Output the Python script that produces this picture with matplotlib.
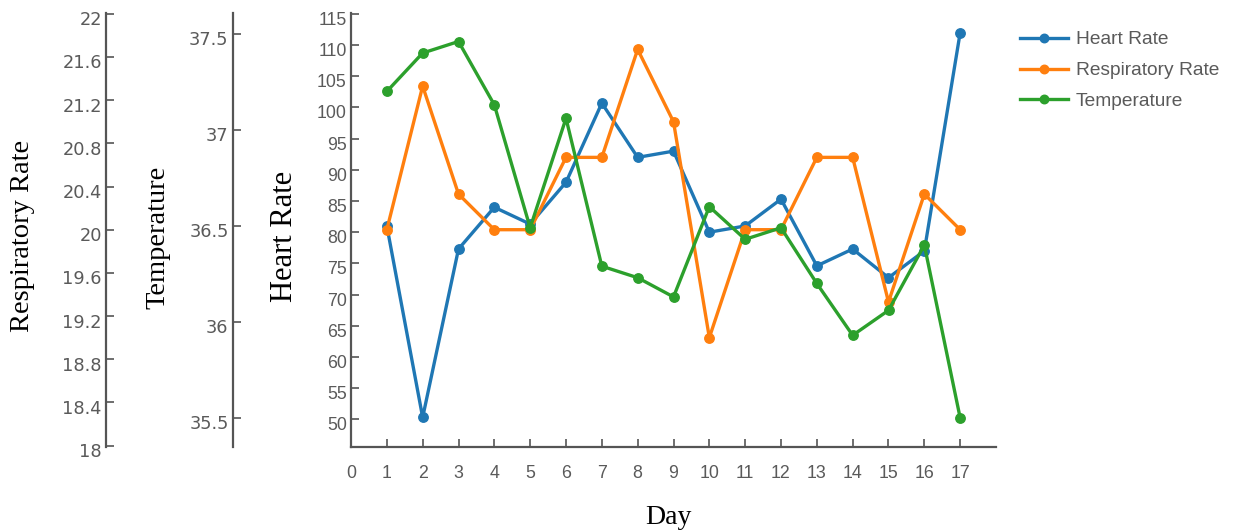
import matplotlib
matplotlib.use("Agg")
import matplotlib.pyplot as plt
import matplotlib.transforms as mtransforms

days = list(range(1, 18))
heart_rate = [81.0, 50.3, 77.3, 84.0, 81.3, 88.0, 100.7, 92.0, 93.0, 80.0,
              81.0, 85.3, 74.6, 77.3, 72.7, 77.0, 112.0]
resp_rate = [20.0, 21.33, 20.33, 20.0, 20.0, 20.67, 20.67, 21.67, 21.0, 19.0,
             20.0, 20.0, 20.67, 20.67, 19.33, 20.33, 20.0]
temperature = [37.2, 37.4, 37.46, 37.13, 36.49, 37.06, 36.29, 36.23, 36.13, 36.6,
               36.43, 36.49, 36.2, 35.93, 36.06, 36.4, 35.5]

x_ticks = list(range(0, 18))
hr_ticks = list(range(50, 116, 5))
rr_ticks = [18, 18.4, 18.8, 19.2, 19.6, 20, 20.4, 20.8, 21.2, 21.6, 22]
rr_labels = ["18", "18.4", "18.8", "19.2", "19.6", "20", "20.4", "20.8", "21.2", "21.6", "22"]
t_ticks = [35.5, 36, 36.5, 37, 37.5]
t_labels = ["35.5", "36", "36.5", "37", "37.5"]

c_blue, c_orange, c_green = "#1f77b4", "#ff7f0e", "#2ca02c"
spine_c = "#555555"
tick_c = "#5a5a5a"
sans = ["Liberation Sans", "DejaVu Sans"]
serif = ["Liberation Serif", "DejaVu Serif"]

W, H = 1258, 531
fig = plt.figure(figsize=(W / 100, H / 100), dpi=100)
L, R, T, B = 351, 996, 12.7, 446.7
ax = fig.add_axes([L / W, 1 - B / H, (R - L) / W, (B - T) / H])
ax_r = ax.twinx()
ax_t = ax.twinx()

lw = 2.4
ms = 6.8
l1, = ax.plot(days, heart_rate, color=c_blue, lw=lw, marker="o", ms=ms, label="Heart Rate", zorder=3)
l2, = ax_r.plot(days, resp_rate, color=c_orange, lw=lw, marker="o", ms=ms, label="Respiratory Rate", zorder=3)
l3, = ax_t.plot(days, temperature, color=c_green, lw=lw, marker="o", ms=ms, label="Temperature", zorder=3)

ax.set_xlim(0, 18)
ax.set_ylim(45.6, 115.2)
ax_r.set_ylim(17.99, 22.01)
ax_t.set_ylim(35.35, 37.61)

ax.set_xticks(x_ticks)
ax.set_xticklabels([str(v) for v in x_ticks])
ax.set_yticks(hr_ticks)
ax.set_yticklabels([str(v) for v in hr_ticks])
ax_r.set_yticks(rr_ticks)
ax_r.set_yticklabels(rr_labels)
ax_t.set_yticks(t_ticks)
ax_t.set_yticklabels(t_labels)

for a in (ax, ax_r, ax_t):
    a.patch.set_visible(False)
    for s in a.spines.values():
        s.set_visible(False)
    a.spines["left"].set_visible(True)
    a.spines["left"].set_color(spine_c)
    a.spines["left"].set_linewidth(1.6)
    a.yaxis.set_ticks_position("left")
    a.yaxis.set_label_position("left")
    a.tick_params(axis="y", direction="in", length=6, width=1.2, color=spine_c,
                  labelsize=12.8, labelcolor=tick_c, pad=3)
    for lab in a.get_yticklabels():
        lab.set_fontfamily(sans)

ax.spines["bottom"].set_visible(True)
ax.spines["bottom"].set_color(spine_c)
ax.spines["bottom"].set_linewidth(1.6)
ax.tick_params(axis="x", direction="in", length=6, width=1.2, color=spine_c,
               labelsize=12.8, labelcolor=tick_c, pad=13.5)
for lab in ax.get_xticklabels():
    lab.set_fontfamily(sans)

ax_r.spines["left"].set_position(("axes", (106 - L) / (R - L)))
ax_t.spines["left"].set_position(("axes", (232.7 - L) / (R - L)))
ax_r.tick_params(axis="x", bottom=False, labelbottom=False)
ax_t.tick_params(axis="x", bottom=False, labelbottom=False)

# y tick labels sit slightly below their ticks in the reference
off = mtransforms.ScaledTranslation(0, -4.5 / 100, fig.dpi_scale_trans)
for a in (ax, ax_r, ax_t):
    for tk in a.yaxis.get_major_ticks():
        tk.label1.set_transform(tk.label1.get_transform() + off)

fig.text(23 / W, 1 - 236 / H, "Respiratory Rate", rotation=90, ha="center", va="center",
         fontsize=20.5, family=serif, color="black")
fig.text(158 / W, 1 - 237.5 / H, "Temperature", rotation=90, ha="center", va="center",
         fontsize=20.5, family=serif, color="black")
fig.text(285 / W, 1 - 236.5 / H, "Heart Rate", rotation=90, ha="center", va="center",
         fontsize=22, family=serif, color="black")
fig.text(668 / W, 1 - 517 / H, "Day", ha="center", va="center",
         fontsize=20, family=serif, color="black")

leg = fig.legend(handles=[l1, l2, l3], loc="upper left",
                 bbox_to_anchor=(1020 / W, 1 - 31 / H), frameon=False,
                 borderpad=0, borderaxespad=0, handlelength=2.5, handletextpad=0.4,
                 labelspacing=0.7, prop={"family": sans, "size": 13.8}, markerscale=0.9)
for t in leg.get_texts():
    t.set_color(tick_c)

fig.savefig("out.png", dpi=100)
